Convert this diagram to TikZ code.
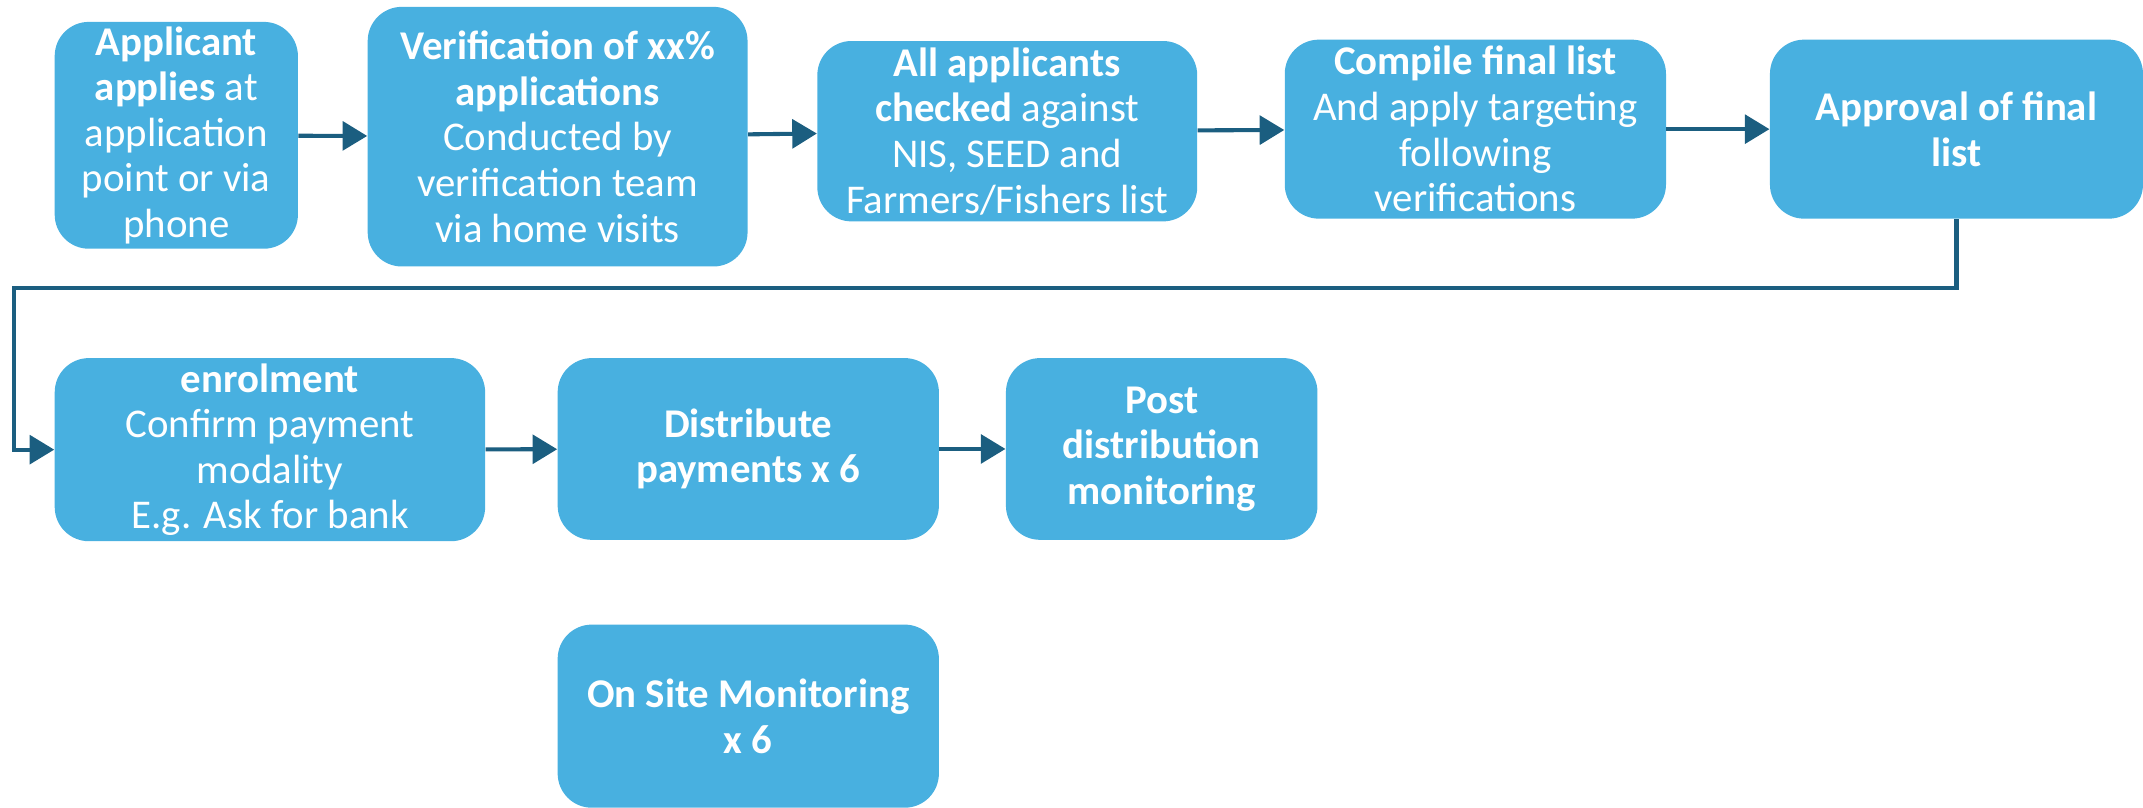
\documentclass[tikz,border=0pt]{standalone}
\usepackage{fontspec}
\setmainfont{Carlito}
\usepackage{tikz}
\usetikzlibrary{arrows.meta,positioning,calc}
\definecolor{boxblue}{HTML}{48B0E0}
\definecolor{flowteal}{HTML}{1B5E80}
\begin{document}
\begin{tikzpicture}[x=0.02cm,y=-0.02cm,
box/.style={rectangle,rounded corners=0.5cm,fill=boxblue,text=white,align=center,
 inner sep=0pt,font=\fontsize{17}{19}\selectfont},
flow/.style={draw=flowteal,line width=1.7pt,-{Triangle[length=0.36cm,width=0.42cm]}}]
\useasboundingbox (0,0) rectangle (1568,591);
\node (b1) at (129,99) [box,minimum width=3.56cm,minimum height=3.32cm]
 {\textbf{Applicant}\\\textbf{applies} at\\application\\point or via\\phone};
\node (b2) at (408,100) [box,minimum width=5.56cm,minimum height=3.8cm]
 {\textbf{Verification of xx\%}\\\textbf{applications}\\Conducted by\\verification team\\via home visits};
\node (b3) at (737,96) [box,minimum width=5.56cm,minimum height=2.64cm]
 {\textbf{All applicants}\\\textbf{checked} against\\NIS, SEED and\\Farmers/Fishers list};
\node (b4) at (1079.5,94.5) [box,minimum width=5.58cm,minimum height=2.62cm]
 {\textbf{Compile final list}\\And apply targeting\\following\\verifications};
\node (b5) at (1431.5,94.5) [box,minimum width=5.46cm,minimum height=2.62cm]
 {\textbf{Approval of final}\\\textbf{list}};
\node (b6) at (197.5,329) [box,minimum width=6.3cm,minimum height=2.68cm]
 {\textbf{enrolment}\\Confirm payment\\modality\\E.g. Ask for bank};
\node (b7) at (547.5,328.5) [box,minimum width=5.58cm,minimum height=2.66cm]
 {\textbf{Distribute}\\\textbf{payments x 6}};
\node (b8) at (850,328.5) [box,minimum width=4.56cm,minimum height=2.66cm]
 {\textbf{Post}\\\textbf{distribution}\\\textbf{monitoring}};
\node (b9) at (547.5,524) [box,minimum width=5.58cm,minimum height=2.68cm]
 {\textbf{On Site Monitoring}\\\textbf{x 6}};
\coordinate (c1) at (10,211);

\draw[flow] (b1) -- (b2);
\draw[flow] (b2) -- (b3);
\draw[flow] (b3) -- (b4);
\draw[flow] (b4) -- (b5);
\draw[flow] (b5.south) |- (c1) |- (b6.west);
\draw[flow] (b6) -- (b7);
\draw[flow] (b7) -- (b8);

\end{tikzpicture}
\end{document}
